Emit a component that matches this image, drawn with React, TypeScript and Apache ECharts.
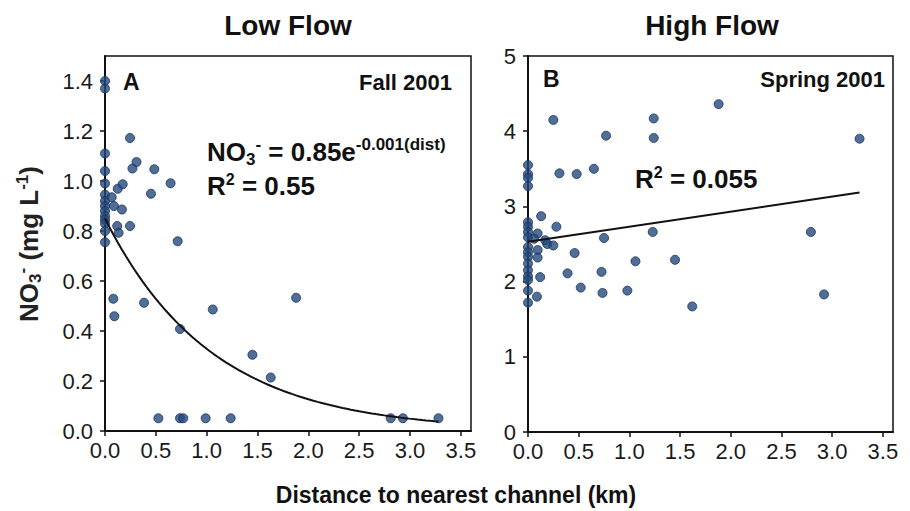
import React, { useEffect, useRef } from "react";
import * as echarts from "echarts";

// Panel A (Low Flow, Fall 2001)
const lowX = [0, 0, 0, 0, 0, 0, 0, 0, 0, 0, 0, 0, 0, 0,
  0.066, 0.088, 0.167, 0.125, 0.174, 0.12, 0.134, 0.246, 0.246, 0.27, 0.31, 0.485, 0.452, 0.645, 0.715,
  0.082, 0.092, 0.384, 0.738, 1.06, 1.88, 1.45, 1.63,
  0.525, 0.738, 0.77, 0.99, 1.236, 2.81, 2.93, 3.28];
const lowY = [1.40, 1.37, 1.11, 1.04, 0.99, 0.945, 0.92, 0.90, 0.88, 0.86, 0.845, 0.83, 0.80, 0.755,
  0.935, 0.90, 0.886, 0.969, 0.987, 0.82, 0.793, 0.82, 1.172, 1.05, 1.076, 1.047, 0.949, 0.991, 0.759,
  0.529, 0.459, 0.513, 0.408, 0.486, 0.533, 0.305, 0.214,
  0.051, 0.051, 0.051, 0.051, 0.051, 0.051, 0.051, 0.051];

// Panel B (High Flow, Spring 2001)
const highX = [0, 0, 0, 0, 0, 0, 0, 0, 0, 0, 0, 0, 0, 0, 0, 0, 0,
  0.088, 0.12, 0.095, 0.095, 0.095, 0.13, 0.06, 0.17, 0.19, 0.25, 0.28,
  0.25, 0.31, 0.48, 0.65, 0.77, 1.24, 1.24, 1.88, 3.27,
  0.46, 0.39, 0.52, 0.75, 0.725, 0.735, 0.98, 1.06, 1.23, 1.45, 1.62, 2.79, 2.92];
const highY = [3.55, 3.43, 3.38, 3.27, 2.79, 2.73, 2.66, 2.59, 2.46, 2.39, 2.33, 2.24, 2.15, 2.07, 2.02, 1.88, 1.72,
  1.80, 2.06, 2.42, 2.32, 2.64, 2.87, 2.57, 2.55, 2.50, 2.48, 2.73,
  4.15, 3.44, 3.43, 3.50, 3.94, 4.17, 3.91, 4.36, 3.90,
  2.38, 2.11, 1.92, 2.58, 2.13, 1.85, 1.88, 2.27, 2.66, 2.29, 1.67, 2.66, 1.83];

// Fit models
const lowFitA = 0.85;
const lowFitK = 0.95;
const lowFitRange = [0, 3.28];
const highFitIntercept = 2.53;
const highFitSlope = 0.2;
const highFitRange = [0, 3.27];

const xTicksMax = 3.6;
const FONT = "'Liberation Sans', Arial, sans-serif";

export default function App() {
  const ref = useRef<HTMLDivElement>(null);
  useEffect(() => {
    if (!ref.current) return;
    const chart = echarts.init(ref.current, undefined, { renderer: "svg" });
    const lowPts = lowX.map((x, i) => [x, lowY[i]]);
    const highPts = highX.map((x, i) => [x, highY[i]]);
    const lowCurve: number[][] = [];
    const steps = 80;
    for (let i = 0; i <= steps; i++) {
      const x = lowFitRange[0] + ((lowFitRange[1] - lowFitRange[0]) * i) / steps;
      lowCurve.push([x, lowFitA * Math.exp(-lowFitK * x)]);
    }
    const highLine = highFitRange.map((x) => [x, highFitIntercept + highFitSlope * x]);

    const axisCommon = {
      axisLine: { show: true, onZero: false, lineStyle: { color: "#111", width: 2 } },
      axisTick: { show: true, inside: false, length: 5, lineStyle: { color: "#111", width: 1.5 } },
      splitLine: { show: false },
    };
    const labelCommon = { color: "#1a1a1a", fontSize: 22, fontFamily: FONT };
    const dot = { color: "#264a7e", borderColor: "#18325a", borderWidth: 1 };
    const txt = (x: number, y: number, text: string, font: string, align: string) => ({
      type: "text", x, y, style: { text, fill: "#111", font, align, verticalAlign: "middle" },
    });

    chart.setOption({
      animation: false,
      backgroundColor: "#fff",
      grid: [
        { left: 105, top: 56, width: 366, height: 375, show: true, borderColor: "#111", borderWidth: 1.5, backgroundColor: "#fff" },
        { left: 528, top: 56, width: 365, height: 376, show: true, borderColor: "#111", borderWidth: 1.5, backgroundColor: "#fff" },
      ],
      xAxis: [0, 1].map((g) => ({
        type: "value", gridIndex: g, min: 0, max: xTicksMax, interval: 0.5,
        ...axisCommon,
        axisLabel: { ...labelCommon, margin: 8, showMaxLabel: false, formatter: (v: number) => v.toFixed(1) },
      })),
      yAxis: [
        {
          type: "value", gridIndex: 0, min: 0, max: 1.5, interval: 0.2, ...axisCommon,
          axisLabel: { ...labelCommon, margin: 12, showMaxLabel: false, formatter: (v: number) => v.toFixed(1) },
        },
        {
          type: "value", gridIndex: 1, min: 0, max: 5, interval: 1, ...axisCommon,
          axisLabel: { ...labelCommon, margin: 12, formatter: (v: number) => String(v) },
        },
      ],
      series: [
        { type: "line", xAxisIndex: 0, yAxisIndex: 0, data: lowCurve, showSymbol: false, smooth: false, lineStyle: { color: "#111", width: 2 }, z: 3 },
        { type: "scatter", xAxisIndex: 0, yAxisIndex: 0, data: lowPts, symbolSize: 9, itemStyle: dot, z: 2 },
        { type: "line", xAxisIndex: 1, yAxisIndex: 1, data: highLine, showSymbol: false, lineStyle: { color: "#111", width: 2 }, z: 3 },
        { type: "scatter", xAxisIndex: 1, yAxisIndex: 1, data: highPts, symbolSize: 9, itemStyle: dot, z: 2 },
      ],
      graphic: [
        txt(288, 25, "Low Flow", `bold 28px ${FONT}`, "center"),
        txt(712, 25, "High Flow", `bold 28px ${FONT}`, "center"),
        txt(123, 82, "A", `bold 23px ${FONT}`, "left"),
        txt(452, 82, "Fall 2001", `bold 22px ${FONT}`, "right"),
        txt(543, 79, "B", `bold 23px ${FONT}`, "left"),
        txt(885, 79, "Spring 2001", `bold 22px ${FONT}`, "right"),
        {
          type: "text", x: 207, y: 152,
          style: {
            text: "{m|NO}{sub|3}{sup|-}{m| = 0.85e}{sup|-0.001(dist)}",
            align: "left", verticalAlign: "middle", fill: "#111",
            rich: {
              m: { font: `bold 26px ${FONT}`, fill: "#111", lineHeight: 32, verticalAlign: "middle" },
              sub: { font: `bold 17px ${FONT}`, fill: "#111", lineHeight: 16, verticalAlign: "bottom" },
              sup: { font: `bold 17px ${FONT}`, fill: "#111", lineHeight: 16, verticalAlign: "top" },
            },
          },
        },
        {
          type: "text", x: 207, y: 186,
          style: {
            text: "{m|R}{sup|2}{m| = 0.55}", align: "left", verticalAlign: "middle", fill: "#111",
            rich: {
              m: { font: `bold 26px ${FONT}`, fill: "#111", lineHeight: 30, verticalAlign: "middle" },
              sup: { font: `bold 16px ${FONT}`, fill: "#111", lineHeight: 16, verticalAlign: "top" },
            },
          },
        },
        {
          type: "text", x: 635, y: 179,
          style: {
            text: "{m|R}{sup|2}{m| = 0.055}", align: "left", verticalAlign: "middle", fill: "#111",
            rich: {
              m: { font: `bold 26px ${FONT}`, fill: "#111", lineHeight: 30, verticalAlign: "middle" },
              sup: { font: `bold 16px ${FONT}`, fill: "#111", lineHeight: 16, verticalAlign: "top" },
            },
          },
        },
        {
          type: "text", x: 29, y: 244, rotation: Math.PI / 2,
          style: {
            text: "{m|NO}{sub|3}{sup|-}{m| (mg L}{sup|-1}{m|)}", align: "center", verticalAlign: "middle", fill: "#222",
            rich: {
              m: { font: `bold 26px ${FONT}`, fill: "#222", lineHeight: 30, verticalAlign: "middle" },
              sub: { font: `bold 17px ${FONT}`, fill: "#222", lineHeight: 16, verticalAlign: "bottom" },
              sup: { font: `bold 17px ${FONT}`, fill: "#222", lineHeight: 16, verticalAlign: "top" },
            },
          },
        },
        txt(456, 495, "Distance to nearest channel (km)", `bold 23px ${FONT}`, "center"),
      ],
    });
    return () => chart.dispose();
  }, []);
  return <div ref={ref} style={{ position: "absolute", left: 0, top: 0, width: 910, height: 511, background: "#fff" }} />;
}
